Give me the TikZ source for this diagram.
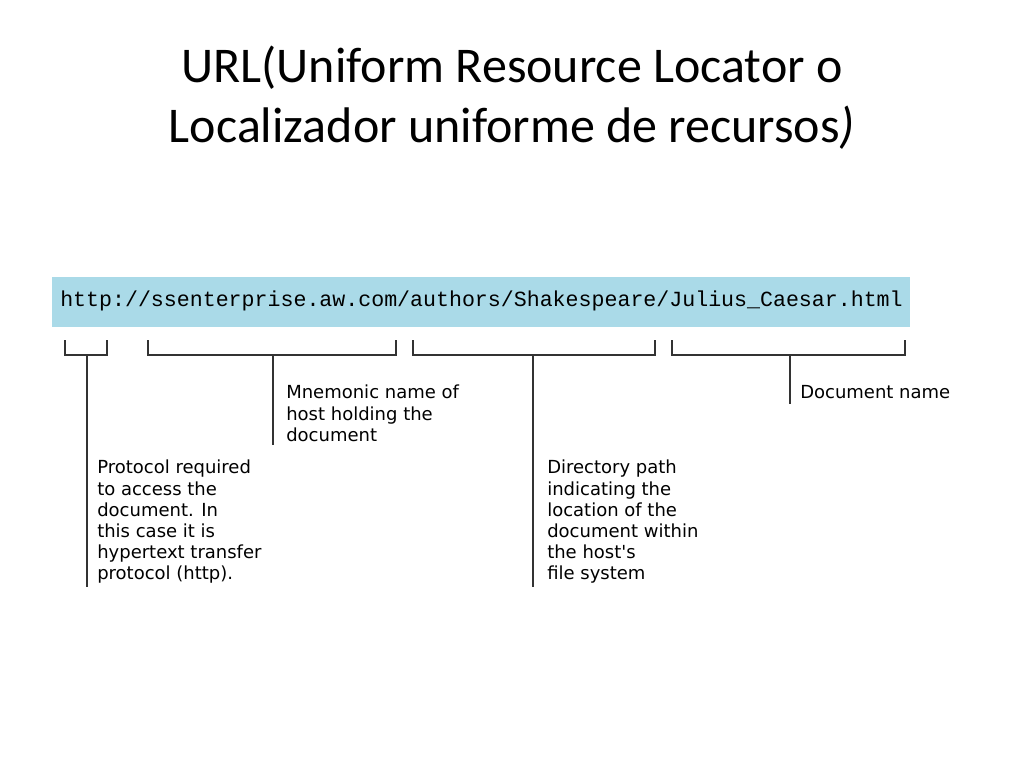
\documentclass[tikz,border=0pt]{standalone}
\usepackage{fontspec}
\setmainfont{Carlito}
\newfontfamily\lblfont{DejaVu Sans}
\newfontfamily\urlfont{Liberation Mono}
\definecolor{band}{RGB}{170,218,232}
\begin{document}
\begin{tikzpicture}[x=0.75pt,y=-0.75pt,
  lbl/.style={anchor=north west,align=left,inner sep=0pt,font=\lblfont\fontsize{13.5}{15.8}\selectfont},
  brk/.style={line width=1pt,black!80}]
\useasboundingbox (0,0) rectangle (1024,768);
\node[font=\fontsize{37.5}{45}\selectfont,align=center] (title) at (512,98) {URL(Uniform Resource Locator o\\Localizador uniforme de recursos\textit{)}};
\fill[band] (52,277) rectangle (910,327);
\node[font=\urlfont\fontsize{16.2}{20}\selectfont,anchor=west,inner sep=0pt] (url) at (60,301) {http://ssenterprise.aw.com/authors/Shakespeare/Julius\_Caesar.html};
\coordinate (b1) at (87,587); \coordinate (b2) at (273,445); \coordinate (b3) at (533,587); \coordinate (b4) at (790,404);
\draw[brk] (65,340) |- (107,355) -- (107,340); \draw[brk] (87,355) -- (b1);
\draw[brk] (148,340) |- (396,355) -- (396,340); \draw[brk] (273,355) -- (b2);
\draw[brk] (413,340) |- (655,355) -- (655,340); \draw[brk] (533,355) -- (b3);
\draw[brk] (672,340) |- (905,355) -- (905,340); \draw[brk] (790,355) -- (b4);
\node[lbl] (l1) at (97,460) {Protocol required\\to access the\\document. In\\this case it is\\hypertext transfer\\protocol (http).};
\node[lbl] (l2) at (286,385) {Mnemonic name of\\host holding the\\document};
\node[lbl] (l3) at (547,460) {Directory path\\indicating the\\location of the\\document within\\the host's\\file system};
\node[lbl] (l4) at (800,385) {Document name};
\end{tikzpicture}
\end{document}
